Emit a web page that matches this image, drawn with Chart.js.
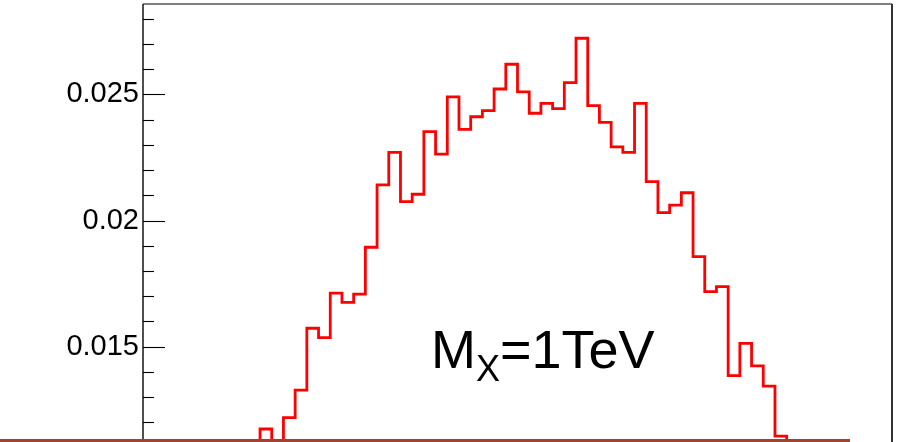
<!DOCTYPE html>
<html>
<head>
<meta charset="utf-8">
<script src="https://cdn.jsdelivr.net/npm/chart.js@4/dist/chart.umd.min.js"></script>
<style>
  html, body { margin: 0; padding: 0; background: #ffffff; }
  #wrap { position: relative; width: 903px; height: 442px; }
</style>
</head>
<body>
<div id="wrap"><canvas id="c" width="903" height="442"></canvas></div>
<script>
// Histogram: 64 equal bins; contents listed from bin 9 to bin 55
// (bins outside that span lie below the visible window).
const nBins = 64;
const firstBin = 9;
const binContents = [
  0.01080, // 9
  0.01174, // 10
  0.01100, // 11
  0.01219, 0.01328, 0.01573, 0.01536, 0.01712, 0.01676, 0.01708, 0.01894, // 12-19
  0.02141, 0.02270, 0.02075, 0.02104, 0.02352, 0.02263, 0.02490, 0.02361, // 20-27
  0.02411, 0.02435, 0.02521, 0.02619, 0.02510, 0.02425, 0.02464, 0.02443, // 28-35
  0.02546, 0.02722, 0.02455, 0.02389, 0.02292, 0.02270, 0.02464, 0.02154, // 36-43
  0.02031, 0.02061, 0.02110, 0.01857, 0.01718, 0.01738, 0.01385, 0.01513, // 44-51
  0.01424, 0.01344, 0.01146, // 52-54
  0.01060  // 55
];
const yMajorTicks = [0.015, 0.02, 0.025];
const yRange = [0.011224, 0.028578];
const labelMain = 'M';
const labelSub = 'X';
const labelRest = '=1TeV';

// Step outline points: left edge of each bin, plus the right edge of the last one.
const points = binContents.map((v, i) => ({ x: firstBin + i, y: v }));
points.push({ x: firstBin + binContents.length, y: binContents[binContents.length - 1] });

const FONT = '"Liberation Sans", Arial, Helvetica, sans-serif';

const rootStyle = {
  id: 'rootStyle',
  afterDraw(chart) {
    const ctx = chart.ctx;
    const a = chart.chartArea;
    const y = chart.scales.y;
    ctx.save();

    // frame
    ctx.strokeStyle = '#000';
    ctx.lineWidth = 1.2;
    ctx.beginPath();
    ctx.moveTo(a.left, a.top);
    ctx.lineTo(a.right, a.top);
    ctx.stroke();
    ctx.strokeStyle = '#333';
    ctx.lineWidth = 2;
    ctx.beginPath();
    ctx.moveTo(a.right, a.top);
    ctx.lineTo(a.right, a.bottom);
    ctx.stroke();
    ctx.strokeStyle = '#222';
    ctx.lineWidth = 1.6;
    ctx.beginPath();
    ctx.moveTo(a.left, a.top);
    ctx.lineTo(a.left, a.bottom);
    ctx.stroke();

    // inward tick marks: minor every 0.001, major every 0.005
    ctx.strokeStyle = '#000';
    ctx.lineWidth = 1.1;
    for (let k = Math.ceil(y.min * 1000); k <= Math.floor(y.max * 1000); k++) {
      const v = k / 1000;
      const py = Math.round(y.getPixelForValue(v)) + 0.5;
      const major = k % 5 === 0;
      ctx.beginPath();
      ctx.moveTo(a.left, py);
      ctx.lineTo(a.left + (major ? 22 : 11), py);
      ctx.stroke();
    }

    // mass label
    ctx.fillStyle = '#000';
    ctx.textBaseline = 'alphabetic';
    ctx.font = '54px ' + FONT;
    let x = 431;
    const base = 368;
    ctx.fillText(labelMain, x, base);
    x += ctx.measureText(labelMain).width;
    ctx.font = '36px ' + FONT;
    ctx.fillText(labelSub, x, base + 13);
    x += ctx.measureText(labelSub).width;
    ctx.font = '54px ' + FONT;
    ctx.fillText(labelRest, x, base);

    // strip along the bottom edge
    ctx.fillStyle = '#A5412F';
    ctx.fillRect(0, 439, 850, 3);
    ctx.restore();
  }
};

new Chart(document.getElementById('c'), {
  type: 'line',
  data: {
    datasets: [{
      data: points,
      stepped: true,
      borderColor: '#ff0000',
      borderWidth: 2.8,
      borderJoinStyle: 'miter',
      borderCapStyle: 'butt',
      pointRadius: 0,
      fill: false,
      tension: 0
    }]
  },
  options: {
    responsive: false,
    animation: false,
    devicePixelRatio: 1,
    layout: { padding: { left: 0, top: 4, right: 11, bottom: 0 } },
    plugins: { legend: { display: false }, tooltip: { enabled: false } },
    scales: {
      x: { type: 'linear', min: 0, max: nBins, display: false },
      y: {
        type: 'linear',
        min: yRange[0],
        max: yRange[1],
        afterFit(scale) {
          scale.width = 143;
          scale.paddingTop = 0;
          scale.paddingBottom = 0;
        },
        afterBuildTicks(scale) { scale.ticks = yMajorTicks.map(v => ({ value: v })); },
        grid: { display: false, drawTicks: false },
        border: { display: false },
        ticks: {
          padding: 4,
          color: '#000',
          font: { family: FONT, size: 29 },
          callback: v => String(Number(v.toFixed(4)))
        }
      }
    }
  },
  plugins: [rootStyle]
});
</script>
</body>
</html>
